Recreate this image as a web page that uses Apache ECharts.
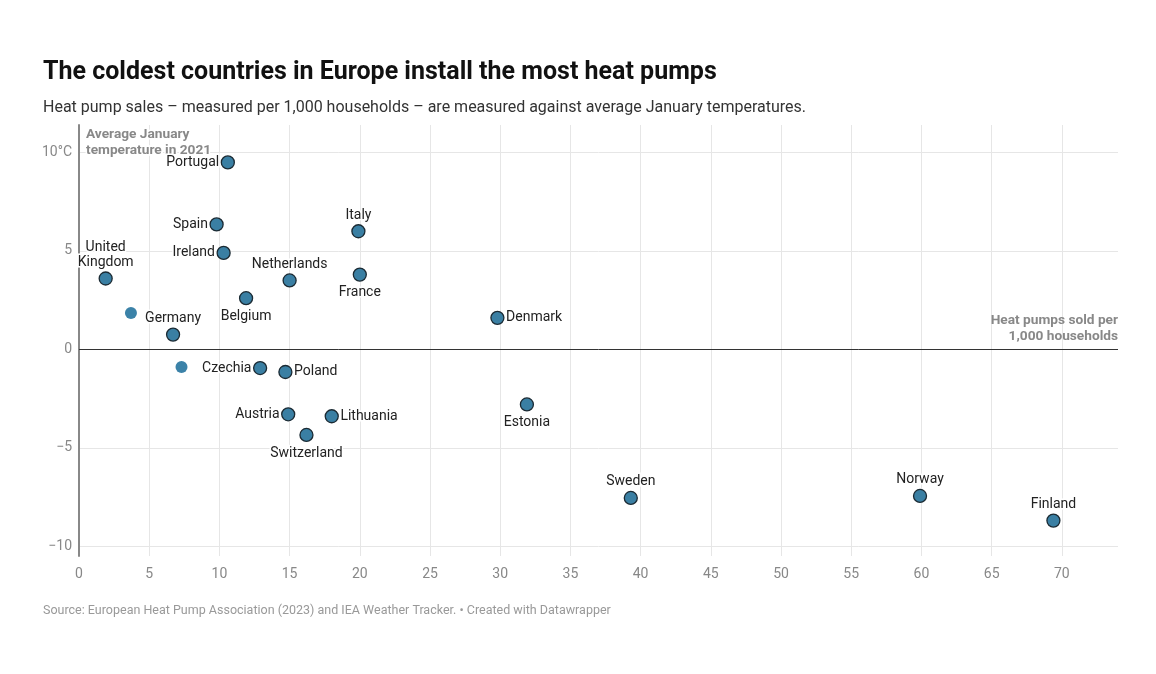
<!DOCTYPE html>
<html>
<head>
<meta charset="utf-8">
<script src="https://cdn.jsdelivr.net/npm/echarts@6/dist/echarts.min.js"></script>
<style>
  html, body { margin: 0; padding: 0; background: #fff; }
  #chart { width: 1156px; height: 674px; }
</style>
</head>
<body>
<div id="chart"></div>
<script>
// heat pumps sold per 1,000 households vs. average January temperature 2021
var countries = ['Portugal', 'Spain', 'Ireland', 'Italy', 'United Kingdom', 'Netherlands', 'France', 'Belgium',
  'Germany', 'Denmark', 'Czechia', 'Poland', 'Austria', 'Lithuania', 'Switzerland', 'Estonia',
  'Sweden', 'Norway', 'Finland'];
var heatPumps = [10.6, 9.8, 10.3, 19.9, 1.9, 15.0, 20.0, 11.9, 6.7, 29.8, 12.9, 14.7, 14.9, 18.0, 16.2, 31.9, 39.3, 59.9, 69.4];
var janTemp = [9.5, 6.35, 4.9, 6.0, 3.6, 3.5, 3.8, 2.6, 0.75, 1.6, -0.95, -1.15, -3.3, -3.4, -4.35, -2.8, -7.55, -7.45, -8.7];

// two unlabelled points
var otherPumps = [3.7, 7.3];
var otherTemp = [1.85, -0.9];

var xTicks = [0, 5, 10, 15, 20, 25, 30, 35, 40, 45, 50, 55, 60, 65, 70];
var yTicks = [-10, -5, 0, 5, 10];

// where each label sits relative to its dot
var labelSide = {
  'Portugal': 'left', 'Spain': 'left', 'Ireland': 'left', 'Italy': 'top', 'United Kingdom': 'top',
  'Netherlands': 'top', 'France': 'bottom', 'Belgium': 'bottom', 'Germany': 'top', 'Denmark': 'right',
  'Czechia': 'left', 'Poland': 'right', 'Austria': 'left', 'Lithuania': 'right', 'Switzerland': 'bottom',
  'Estonia': 'bottom', 'Sweden': 'top', 'Norway': 'top', 'Finland': 'top'
};

var font = 'Roboto, "Noto Sans", sans-serif';

var points = countries.map(function (c, i) {
  var side = labelSide[c];
  return {
    name: c,
    value: [heatPumps[i], janTemp[i]],
    label: { position: side, distance: side === 'bottom' ? 3.5 : 1.5 }
  };
});
var others = otherPumps.map(function (v, i) { return [v, otherTemp[i]]; });

var myChart = echarts.init(document.getElementById('chart'));

var option = {
  backgroundColor: '#fff',
  animation: false,
  title: [
    {
      text: 'The coldest countries in Europe install the most heat pumps',
      left: 38, top: 55,
      textStyle: { fontFamily: font, fontSize: 25, fontWeight: 'bold', color: '#111' }
    },
    {
      text: 'Heat pump sales \u2013 measured per 1,000 households \u2013 are measured against average January temperatures.',
      left: 38, top: 95,
      textStyle: { fontFamily: font, fontSize: 16, fontWeight: 'normal', color: '#333' }
    },
    {
      text: 'Source: European Heat Pump Association (2023) and IEA Weather Tracker. \u2022 Created with Datawrapper',
      left: 38, top: 599,
      textStyle: { fontFamily: font, fontSize: 12.5, fontWeight: 'normal', color: '#999' }
    }
  ],
  grid: { left: 79, right: 38, top: 125, bottom: 118, containLabel: false },
  xAxis: {
    type: 'value',
    min: 0,
    max: 74,
    axisLine: { show: false },
    axisTick: { show: false, customValues: xTicks },
    axisLabel: { customValues: xTicks, color: '#888', fontFamily: font, fontSize: 14, margin: 11 },
    splitLine: { show: true, lineStyle: { color: '#e6e6e6', width: 1 } }
  },
  yAxis: {
    type: 'value',
    min: -10.5,
    max: 11.4,
    name: 'Average January\ntemperature in 2021',
    nameLocation: 'end',
    nameGap: -2,
    nameTextStyle: {
      align: 'left', verticalAlign: 'top', padding: [0, 0, 0, 7],
      color: '#888', fontFamily: font, fontSize: 13.7, fontWeight: 'bold', lineHeight: 16,
      textBorderColor: '#fff', textBorderWidth: 3
    },
    axisLine: { show: true, lineStyle: { color: '#888', width: 2 } },
    axisTick: { show: false, customValues: yTicks },
    axisLabel: {
      customValues: yTicks,
      color: '#888', fontFamily: font, fontSize: 14, margin: 7,
      formatter: function (v) {
        if (v === 10) return '10\u00b0C';
        return v < 0 ? '\u2212' + Math.abs(v) : String(v);
      }
    },
    splitLine: { show: true, lineStyle: { color: '#e6e6e6', width: 1 } }
  },
  series: [
    {
      type: 'scatter',
      data: others,
      symbolSize: 12,
      itemStyle: { color: '#3b82a8', opacity: 1 },
      z: 3
    },
    {
      type: 'scatter',
      data: points,
      symbolSize: 13,
      itemStyle: { color: '#3a7fa3', borderColor: '#1b2a33', borderWidth: 1.3, opacity: 1 },
      label: {
        show: true,
        color: '#222',
        fontFamily: font,
        fontSize: 14,
        lineHeight: 15,
        textBorderColor: '#fff',
        textBorderWidth: 3,
        formatter: function (p) {
          return p.name === 'United Kingdom' ? 'United\nKingdom' : p.name;
        }
      },
      markLine: {
        silent: true,
        symbol: 'none',
        lineStyle: { color: '#333', width: 1, type: 'solid' },
        label: {
          show: true,
          position: 'insideEndTop',
          distance: [0, 5],
          align: 'right',
          formatter: 'Heat pumps sold per\n1,000 households',
          color: '#888', fontFamily: font, fontSize: 13.7, fontWeight: 'bold', lineHeight: 16
        },
        data: [{ yAxis: 0 }]
      },
      z: 4
    }
  ]
};

myChart.setOption(option);
</script>
</body>
</html>
